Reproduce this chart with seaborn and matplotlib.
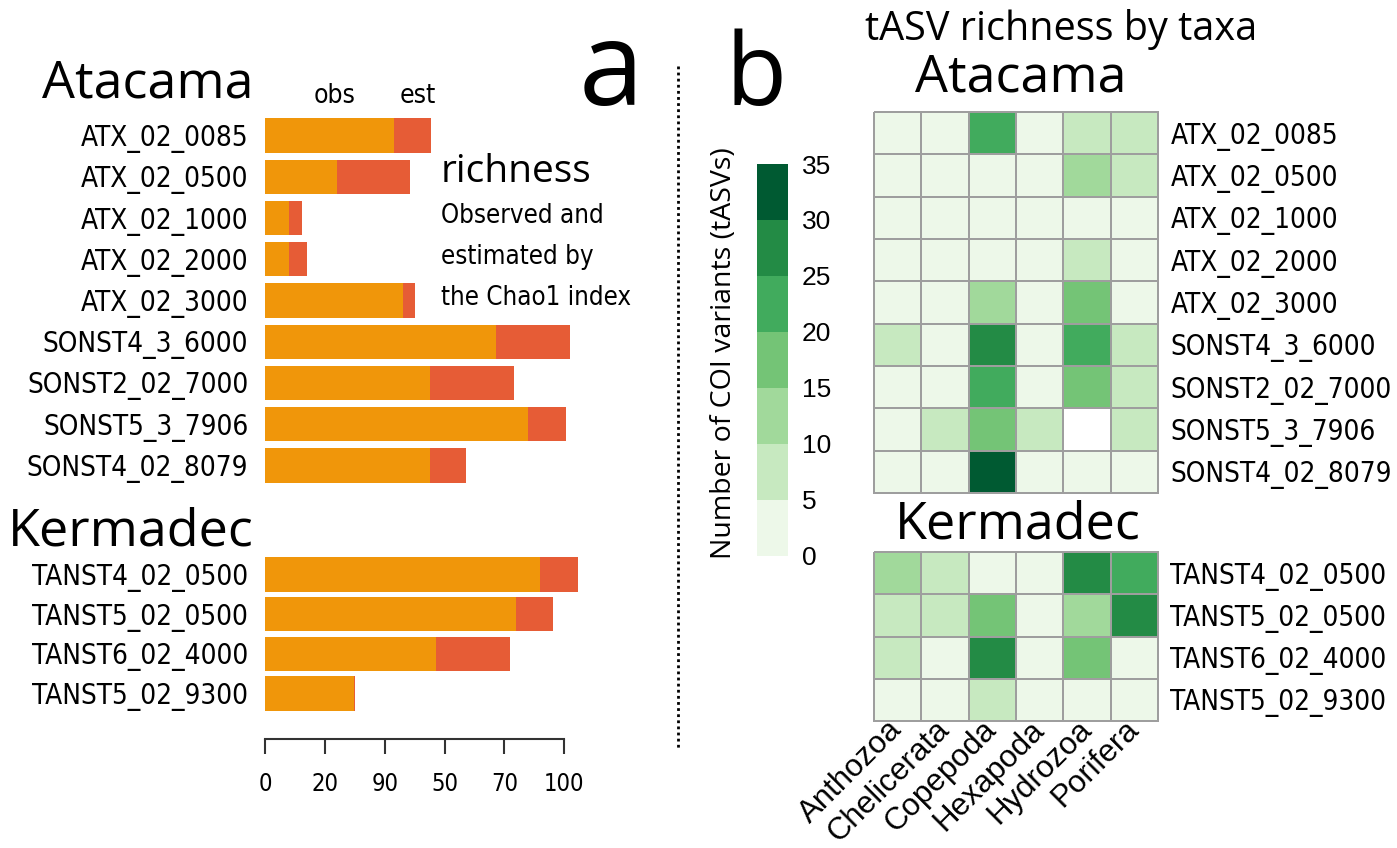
import numpy as np
import pandas as pd
import seaborn as sns
import matplotlib.pyplot as plt
from matplotlib.colors import ListedColormap
from matplotlib.lines import Line2D

# ---- panel a: richness (observed + Chao1 estimate) ----
atacama_sites = ["ATX_02_0085", "ATX_02_0500", "ATX_02_1000", "ATX_02_2000", "ATX_02_3000",
                 "SONST4_3_6000", "SONST2_02_7000", "SONST5_3_7906", "SONST4_02_8079"]
atacama_obs = [43, 24, 8, 8, 46, 77, 55, 88, 55]
atacama_est = [55.5, 48.4, 12.5, 14.1, 50.0, 102.0, 83.2, 100.6, 67.0]

kermadec_sites = ["TANST4_02_0500", "TANST5_02_0500", "TANST6_02_4000", "TANST5_02_9300"]
kermadec_obs = [92, 84, 57, 29.6]
kermadec_est = [104.5, 96.1, 82.0, 29.9]

x_ticks = [0, 20, 40, 60, 80, 100]
x_ticklabels = ["0", "20", "90", "50", "70", "100"]

# ---- panel b: tASV richness by taxa ----
taxa = ["Anthozoa", "Chelicerata", "Copepoda", "Hexapoda", "Hydrozoa", "Porifera"]
atacama_tasv = [
    [2, 1, 22, 1, 8, 7],
    [1, 2, 3, 1, 12, 8],
    [1, 1, 2, 0, 3, 1],
    [1, 0, 2, 1, 7, 2],
    [2, 1, 13, 1, 18, 3],
    [8, 2, 28, 1, 23, 9],
    [3, 2, 22, 1, 17, 8],
    [2, 7, 17, 6, np.nan, 8],
    [3, 1, 33, 1, 4, 2],
]
kermadec_tasv = [
    [12, 8, 3, 1, 28, 22],
    [7, 9, 18, 2, 11, 27],
    [6, 3, 26, 1, 17, 2],
    [2, 1, 8, 0, 3, 1],
]
green_levels = ["#edf8e9", "#c7e9c0", "#a1d99b", "#74c476", "#41ab5d", "#238b45", "#005a32"]
cbar_ticks = [0, 5, 10, 15, 20, 25, 30, 35]

ORANGE = "#F0960A"
RED = "#E65C36"
NARROW = dict(fontfamily=["DejaVu Sans"], fontstretch="condensed")
HEAD = ["Open Sans", "DejaVu Sans"]
HELV = ["Liberation Sans", "DejaVu Sans"]

sns.set_theme(style="white")
plt.rcParams["font.family"] = HELV
plt.rcParams.update({"text.color": "black", "axes.labelcolor": "black",
                     "xtick.color": "black", "ytick.color": "black"})

W, H = 1397, 848
fig = plt.figure(figsize=(W / 100, H / 100), dpi=100)


def box(x0, y0, x1, y1):
    # pixel box (top-left origin) -> figure fraction rect
    return [x0 / W, 1 - y1 / H, (x1 - x0) / W, (y1 - y0) / H]


def ftext(x, y, s, **kw):
    fig.text(x / W, 1 - y / H, s, **kw)


def narrow(labels, size):
    for lab in labels:
        lab.set_fontfamily(NARROW["fontfamily"])
        lab.set_fontstretch(NARROW["fontstretch"])
        lab.set_fontsize(size)


def bar_panel(ax, sites, obs, est, width):
    df = pd.DataFrame({"site": sites, "obs": obs, "est": est})
    sns.barplot(data=df, x="est", y="site", color=RED, saturation=1, width=width,
                edgecolor="none", ax=ax)
    sns.barplot(data=df, x="obs", y="site", color=ORANGE, saturation=1, width=width,
                edgecolor="none", ax=ax)
    ax.set_xlim(0, 110)
    ax.set_xlabel("")
    ax.set_ylabel("")
    ax.tick_params(axis="y", length=0, pad=12)
    narrow(ax.get_yticklabels(), 20)
    for s in ax.spines.values():
        s.set_visible(False)


ax_a1 = fig.add_axes(box(265, 114.9, 594.3, 486.1))
bar_panel(ax_a1, atacama_sites, atacama_obs, atacama_est, 0.83)
ax_a1.set_xticks([])

ax_a2 = fig.add_axes(box(265, 554.6, 594.3, 713.3))
bar_panel(ax_a2, kermadec_sites, kermadec_obs, kermadec_est, 0.87)
ax_a2.spines["bottom"].set_visible(True)
ax_a2.spines["bottom"].set_position(("outward", 18.7))
ax_a2.spines["bottom"].set_bounds(0, 100)
ax_a2.spines["bottom"].set_color("#333333")
ax_a2.spines["bottom"].set_linewidth(1.5)
ax_a2.set_xticks(x_ticks)
ax_a2.set_xticklabels(x_ticklabels)
narrow(ax_a2.get_xticklabels(), 17)
ax_a2.tick_params(axis="x", bottom=True, direction="out", length=10.8, width=1.5,
                  color="#333333", pad=13)

# ---- heatmaps ----
cmap = ListedColormap(green_levels)
ax_b1 = fig.add_axes(box(874, 112, 1158, 493))
ax_b2 = fig.add_axes(box(874, 552, 1158, 721))
cax = fig.add_axes(box(757, 164, 788, 555.7))

df_at = pd.DataFrame(atacama_tasv, index=atacama_sites, columns=taxa)
df_ke = pd.DataFrame(kermadec_tasv, index=kermadec_sites, columns=taxa)

sns.heatmap(df_at, cmap=cmap, vmin=0, vmax=35, linewidths=1.4, linecolor="#9E9E9E",
            ax=ax_b1, cbar_ax=cax, cbar_kws={"ticks": cbar_ticks})
sns.heatmap(df_ke, cmap=cmap, vmin=0, vmax=35, linewidths=1.4, linecolor="#9E9E9E",
            ax=ax_b2, cbar=False)

for ax in (ax_b1, ax_b2):
    ax.collections[0].set_clip_on(False)
    ax.yaxis.tick_right()
    ax.tick_params(axis="y", length=0, pad=9, right=False)
    ax.set_yticklabels(ax.get_yticklabels(), rotation=0)
    narrow(ax.get_yticklabels(), 20)
    ax.set_xlabel("")
    ax.set_ylabel("")

ax_b1.set_xticks([])
ax_b2.tick_params(axis="x", length=0, pad=3)
ax_b2.set_xticklabels(taxa, rotation=45, ha="right", va="center", rotation_mode="anchor",
                      fontfamily=HELV, fontsize=22.5)

cbar = ax_b1.collections[0].colorbar
cbar.outline.set_visible(False)
cax.tick_params(length=0, pad=10, labelsize=19, labelcolor="black")
cax.yaxis.set_label_position("left")
cax.set_ylabel("Number of COI variants (tASVs)", fontfamily=HEAD, fontsize=20.5, labelpad=14)
cax.yaxis.label.set_y(0.518)

# ---- titles / annotations ----
ftext(42, 97, "Atacama", fontfamily=HEAD, fontsize=37.5, va="baseline")
ftext(8, 545, "Kermadec", fontfamily=HEAD, fontsize=37.5, va="baseline")
ftext(335, 96, "obs", ha="center", va="center", fontsize=19, **NARROW)
ftext(418, 96, "est", ha="center", va="center", fontsize=19, **NARROW)
ftext(441, 182, "richness", fontfamily=HEAD, fontsize=28, va="baseline")
ftext(441, 223, "Observed and", va="baseline", fontsize=18.5, **NARROW)
ftext(441, 264, "estimated by", va="baseline", fontsize=18.5, **NARROW)
ftext(441, 305, "the Chao1 index", va="baseline", fontsize=18.5, **NARROW)
ftext(579, 105, "a", fontfamily=HEAD, fontsize=84, va="baseline")
ftext(725, 105, "b", fontfamily=HEAD, fontsize=72, va="baseline")
ftext(1061, 30, "tASV richness by taxa", fontfamily=HEAD, fontsize=28.5, ha="center", va="center")
ftext(1021, 78, "Atacama", fontfamily=HEAD, fontsize=37.5, ha="center", va="center")
ftext(1018, 525, "Kermadec", fontfamily=HEAD, fontsize=37.5, ha="center", va="center")

fig.add_artist(Line2D([678 / W, 678 / W], [1 - 66 / H, 1 - 748 / H], color="black",
                      linestyle=(0, (1, 1.2)), linewidth=2))

fig.savefig("out.png", dpi=100)
